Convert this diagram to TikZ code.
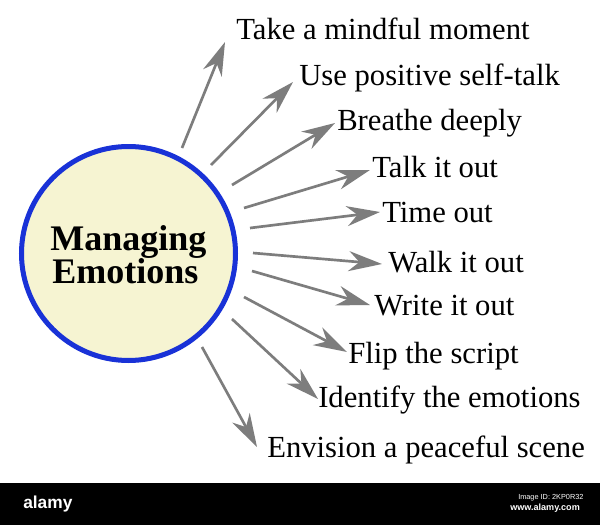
\documentclass[tikz,border=0pt]{standalone}
\usepackage{fontspec}
\setmainfont{Liberation Serif}
\newfontfamily\wmfont{Liberation Sans}
\usetikzlibrary{arrows.meta}
\definecolor{arrowgrey}{RGB}{125,125,125}
\definecolor{ringblue}{RGB}{25,50,215}
\definecolor{cream}{RGB}{246,244,210}
\begin{document}
\begin{tikzpicture}[x=0.75pt,y=-0.75pt,
  lbl/.style={anchor=base west, inner sep=0pt, font=\fontsize{23}{27}\selectfont},
  ttl/.style={anchor=base west, inner sep=0pt, font=\fontsize{27}{32}\selectfont\bfseries},
  arr/.style={draw=arrowgrey, line width=2pt, -{Stealth[length=25pt,width=15pt,inset=8pt]}},
  wm/.style={anchor=base west, inner sep=0pt, text=white}]
\useasboundingbox (0,0) rectangle (600,525);
\fill[white] (0,0) rectangle (600,525);
% central circle
\node (c) [circle, draw=ringblue, fill=cream, line width=3.75pt, inner sep=0pt, minimum size=160.5pt] at (128.5,253.5) {};
\node (t1) [ttl] at (50,250) {Managing};
\node (t2) [ttl] at (52,283) {Emotions};
% labels
\node (l1)  [lbl] at (236,39)  {Take a mindful moment};
\node (l2)  [lbl] at (299,85)  {Use positive self-talk};
\node (l3)  [lbl] at (337,130) {Breathe deeply};
\node (l4)  [lbl] at (372,177) {Talk it out};
\node (l5)  [lbl] at (382,222) {Time out};
\node (l6)  [lbl] at (388,272) {Walk it out};
\node (l7)  [lbl] at (374,315) {Write it out};
\node (l8)  [lbl] at (348,363) {Flip the script};
\node (l9)  [lbl] at (318,407) {Identify the emotions};
\node (l10) [lbl] at (267,457) {Envision a peaceful scene};
% arrow ends
\coordinate (s1) at (182,148);  \coordinate (e1) at (225,42);
\coordinate (s2) at (211,165);  \coordinate (e2) at (293,82);
\coordinate (s3) at (232,185);  \coordinate (e3) at (335,123);
\coordinate (s4) at (244,208);  \coordinate (e4) at (370,170);
\coordinate (s5) at (250,228);  \coordinate (e5) at (380,212);
\coordinate (s6) at (253,253);  \coordinate (e6) at (382,264);
\coordinate (s7) at (252,271);  \coordinate (e7) at (370,305);
\coordinate (s8) at (244,297);  \coordinate (e8) at (347,352);
\coordinate (s9) at (232,319);  \coordinate (e9) at (318,399);
\coordinate (s10) at (202,347); \coordinate (e10) at (257,447);
\foreach \i in {1,...,10} { \draw[arr] (s\i) -- (e\i); }
% watermark bar
\fill[black] (0,483) rectangle (600,525);
\node (wm1) [wm, font=\wmfont\bfseries\fontsize{13}{15}\selectfont] at (23,508) {alamy};
\node (wm2) [wm, font=\wmfont\fontsize{5.5}{6}\selectfont] at (518,499) {Image ID: 2KP0R32};
\node (wm3) [wm, font=\wmfont\bfseries\fontsize{6.8}{8}\selectfont] at (510,510) {www.alamy.com};
\end{tikzpicture}
\end{document}
